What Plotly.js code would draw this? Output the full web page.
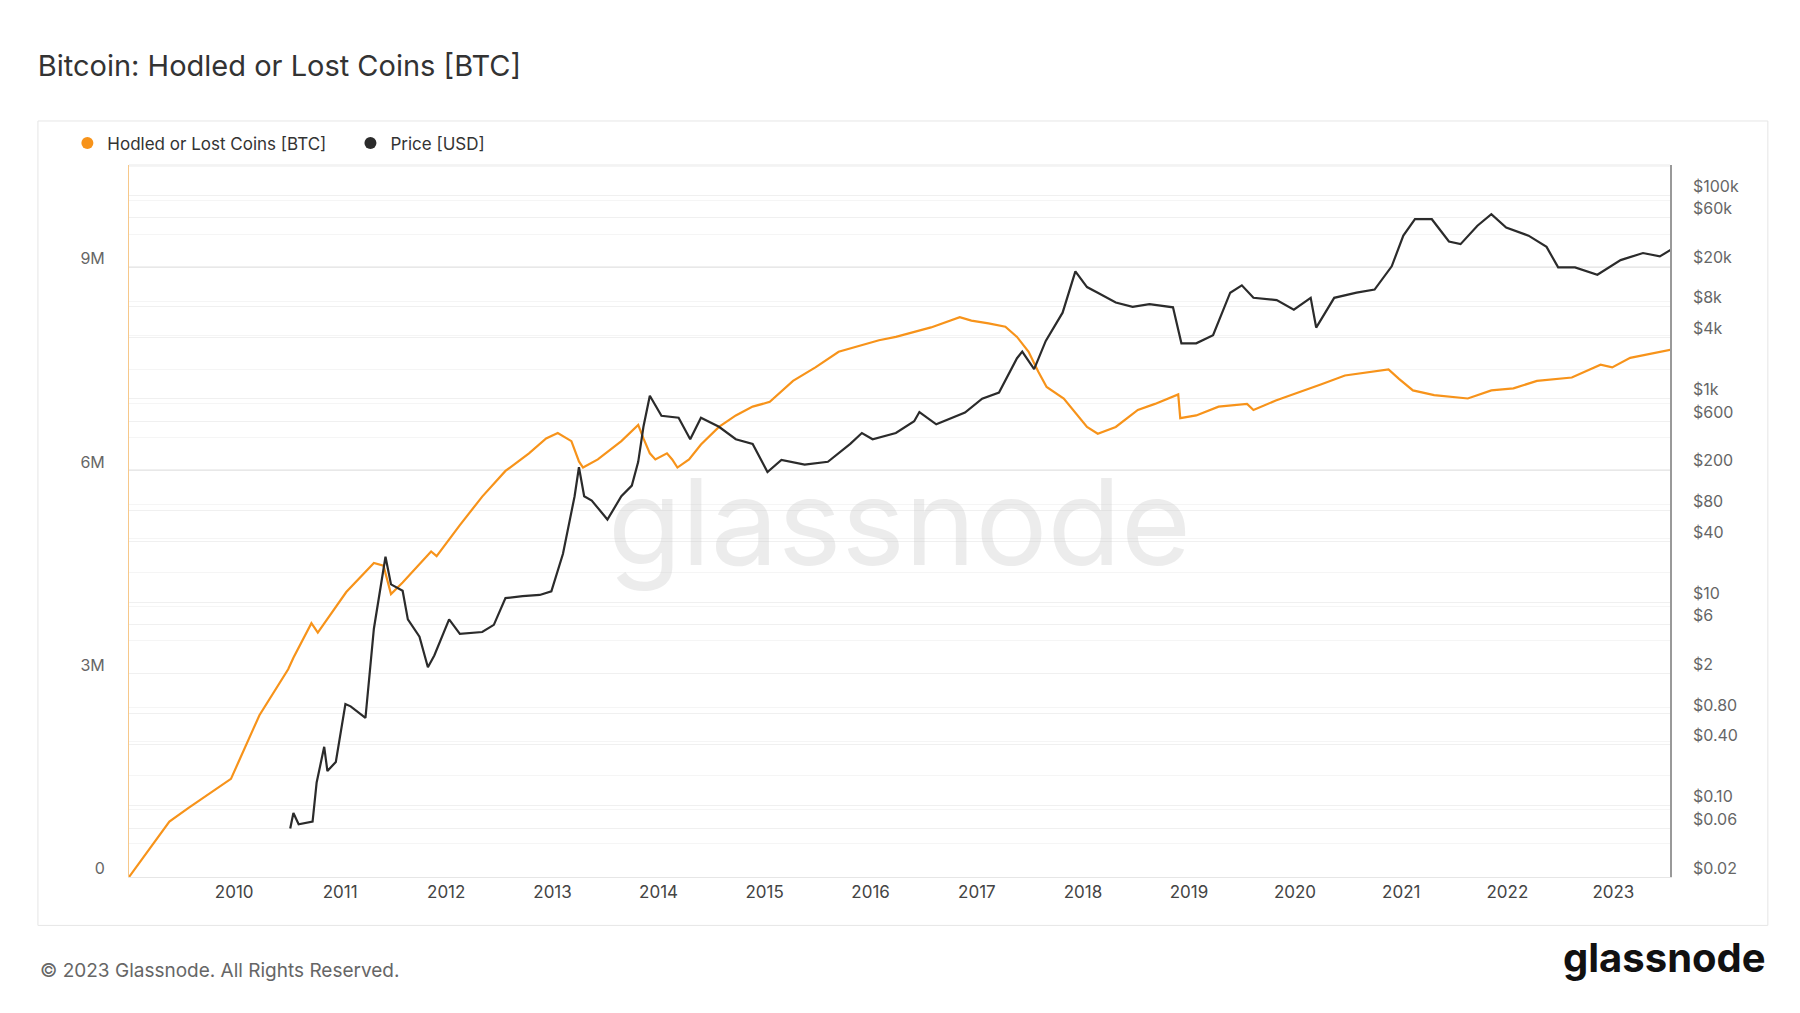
<!DOCTYPE html>
<html>
<head>
<meta charset="utf-8">
<script src="https://cdn.plot.ly/plotly-3.0.1.min.js"></script>
<style>
  body { margin: 0; background: #fff; }
  #chart { width: 1800px; height: 1013px; }
</style>
</head>
<body>
<div id="chart"></div>
<script>
// pixel readings converted to year fractions / values
var hodlYears = [2009.01, 2009.39, 2009.57, 2009.97, 2010.24, 2010.51, 2010.56, 2010.73, 2010.79, 2011.06,
  2011.32, 2011.41, 2011.48, 2011.59, 2011.86, 2011.91, 2012.13, 2012.34, 2012.56, 2012.78, 2012.94,
  2013.05, 2013.18, 2013.25, 2013.29, 2013.43, 2013.65, 2013.81, 2013.86, 2013.92, 2013.97, 2014.08,
  2014.13, 2014.18, 2014.29, 2014.4, 2014.57, 2014.73, 2014.89, 2015.05, 2015.27, 2015.48, 2015.7,
  2015.87, 2016.08, 2016.24, 2016.41, 2016.57, 2016.84, 2016.95, 2017.11, 2017.27, 2017.38, 2017.49,
  2017.58, 2017.66, 2017.82, 2017.91, 2018.04, 2018.14, 2018.31, 2018.52, 2018.68, 2018.9, 2018.92,
  2019.07, 2019.28, 2019.55, 2019.61, 2019.82, 2020.04, 2020.25, 2020.47, 2020.88, 2020.98, 2021.11,
  2021.31, 2021.63, 2021.85, 2022.06, 2022.28, 2022.61, 2022.88, 2022.99, 2023.16, 2023.54];
var hodlCoins = [0, 0.82, 1.02, 1.45, 2.39, 3.07, 3.24, 3.75, 3.61, 4.21,
  4.64, 4.6, 4.18, 4.35, 4.81, 4.74, 5.2, 5.62, 6.0, 6.26, 6.48,
  6.56, 6.44, 6.14, 6.05, 6.17, 6.44, 6.68, 6.48, 6.26, 6.17, 6.26,
  6.17, 6.05, 6.17, 6.39, 6.65, 6.82, 6.95, 7.02, 7.33, 7.53, 7.76,
  7.84, 7.93, 7.98, 8.05, 8.12, 8.27, 8.22, 8.18, 8.13, 7.98, 7.76,
  7.47, 7.24, 7.07, 6.9, 6.65, 6.55, 6.65, 6.9, 6.99, 7.13, 6.78,
  6.82, 6.95, 6.99, 6.9, 7.04, 7.16, 7.28, 7.41, 7.5, 7.36, 7.19,
  7.12, 7.07, 7.19, 7.22, 7.33, 7.38, 7.57, 7.53, 7.67, 7.79];

var priceYears = [2010.53, 2010.56, 2010.61, 2010.74, 2010.78, 2010.85, 2010.88, 2010.96, 2011.05, 2011.1,
  2011.24, 2011.32, 2011.43, 2011.48, 2011.59, 2011.64, 2011.75, 2011.83, 2011.89, 2012.03, 2012.13,
  2012.34, 2012.45, 2012.56, 2012.72, 2012.88, 2012.99, 2013.1, 2013.21, 2013.25, 2013.3, 2013.37,
  2013.52, 2013.65, 2013.75, 2013.81, 2013.86, 2013.92, 2014.03, 2014.19, 2014.3, 2014.4, 2014.57,
  2014.73, 2014.89, 2015.03, 2015.16, 2015.38, 2015.6, 2015.81, 2015.92, 2016.02, 2016.24, 2016.41,
  2016.46, 2016.62, 2016.89, 2017.05, 2017.21, 2017.38, 2017.43, 2017.54, 2017.65, 2017.81, 2017.93,
  2018.04, 2018.14, 2018.31, 2018.47, 2018.63, 2018.85, 2018.93, 2019.07, 2019.23, 2019.39, 2019.5,
  2019.61, 2019.83, 2019.99, 2020.15, 2020.2, 2020.37, 2020.58, 2020.75, 2020.91, 2021.02, 2021.13,
  2021.29, 2021.45, 2021.56, 2021.72, 2021.85, 2021.99, 2022.2, 2022.37, 2022.48, 2022.64, 2022.85,
  2023.07, 2023.28, 2023.44, 2023.54];
var priceUsd = [0.06, 0.085, 0.066, 0.07, 0.17, 0.38, 0.22, 0.27, 1.0, 0.95,
  0.73, 5.5, 28, 15, 13, 6.8, 4.6, 2.3, 3.0, 6.8, 4.9,
  5.1, 6.0, 11, 11.5, 11.8, 12.8, 30, 110, 212, 110, 100,
  65, 110, 140, 240, 530, 1070, 680, 650, 400, 650, 530,
  400, 360, 190, 250, 225, 240, 360, 460, 400, 460, 600,
  740, 560, 730, 1000, 1150, 2500, 2900, 1950, 3700, 7000, 17800,
  12500, 11000, 8800, 8000, 8500, 7900, 3500, 3500, 4200, 11000, 13000,
  9800, 9300, 7500, 9800, 5000, 9800, 11000, 11800, 20000, 40000, 58000,
  58000, 35000, 33000, 50000, 65000, 48000, 40000, 31000, 19500, 19500, 16500,
  23000, 27000, 25000, 29000];

var priceTicks = [0.02, 0.06, 0.1, 0.4, 0.8, 2, 6, 10, 40, 80, 200, 600, 1000, 4000, 8000, 20000, 60000, 100000];
var priceTickText = ['$0.02', '$0.06', '$0.10', '$0.40', '$0.80', '$2', '$6', '$10', '$40', '$80', '$200', '$600', '$1k', '$4k', '$8k', '$20k', '$60k', '$100k'];

function toDate(y) {
  var yr = Math.floor(y);
  var start = Date.UTC(yr, 0, 1), end = Date.UTC(yr + 1, 0, 1);
  return new Date(start + (y - yr) * (end - start)).toISOString().slice(0, 10);
}

var font = 'Inter, "Noto Sans", sans-serif';
var orange = '#f7931a', dark = '#2b2b2b';

var data = [
  {
    x: hodlYears.map(toDate), y: hodlCoins.map(function (v) { return v * 1e6; }),
    name: 'Hodled or Lost Coins [BTC]', type: 'scatter', mode: 'lines', showlegend: false,
    line: {color: orange, width: 2.2}, yaxis: 'y'
  },
  {
    x: priceYears.map(toDate), y: priceUsd,
    name: 'Price [USD]', type: 'scatter', mode: 'lines', showlegend: false,
    line: {color: dark, width: 2.2}, yaxis: 'y2'
  },
  // legend entries with round markers
  {x: [null], y: [null], name: 'Hodled or Lost Coins [BTC]    ', type: 'scatter', mode: 'markers',
    marker: {color: orange, size: 12}},
  {x: [null], y: [null], name: 'Price [USD]', type: 'scatter', mode: 'markers',
    marker: {color: dark, size: 12}}
];

var layout = {
  width: 1800, height: 1013,
  paper_bgcolor: '#fff', plot_bgcolor: 'rgba(0,0,0,0)',
  margin: {l: 129, r: 130, t: 165, b: 136},
  font: {family: font, color: '#555'},
  title: {text: 'Bitcoin: Hodled or Lost Coins [BTC]', x: 0.021, xanchor: 'left', y: 0.945,
    font: {family: font, size: 29, color: '#333'}},
  showlegend: true,
  legend: {orientation: 'h', x: -0.04, xref: 'paper', y: 1.005, yanchor: 'bottom', xanchor: 'left',
    font: {size: 17, color: '#333'}, itemwidth: 30},
  xaxis: {
    type: 'date', range: ['2009-01-04', '2023-07-15'],
    tickvals: ['2010', '2011', '2012', '2013', '2014', '2015', '2016', '2017', '2018', '2019', '2020', '2021', '2022', '2023'].map(function (y) { return y + '-01-01'; }),
    tickformat: '%Y', showgrid: false, zeroline: false,
    showline: true, linecolor: '#e6e6e6', ticks: '',
    tickfont: {size: 17, color: '#444'}
  },
  yaxis: {
    range: [0, 10.52e6], tickvals: [0, 3e6, 6e6, 9e6], ticktext: ['0', '3M', '6M', '9M'],
    showgrid: true, gridcolor: '#e8e8e8', zeroline: false,
    minor: {dtick: 500000, showgrid: true, gridcolor: '#f5f5f5'},
    showline: true, linecolor: '#f7c88a', linewidth: 1,
    tickfont: {size: 16, color: '#666'}, ticklabelstandoff: 20, ticklabelshift: -9
  },
  yaxis2: {
    type: 'log', overlaying: 'y', side: 'right',
    range: [Math.log10(0.02), 5.296],
    tickvals: priceTicks, ticktext: priceTickText,
    showgrid: true, gridcolor: '#f0f0f0', zeroline: false,
    showline: true, linecolor: '#999', linewidth: 1.5,
    tickfont: {size: 16, color: '#666'}, ticklabelstandoff: 18, ticklabelshift: -9
  },
  shapes: [
    {type: 'rect', xref: 'paper', yref: 'paper', x0: -0.0591, x1: 1.0635, y0: -0.068, y1: 1.0618,
      line: {color: '#e6e6e6', width: 1}, layer: 'below'},
    {type: 'line', xref: 'paper', yref: 'paper', x0: 0, x1: 1, y0: 1, y1: 1,
      line: {color: '#e8e8e8', width: 1}}
  ],
  annotations: [
    {text: 'glassnode', xref: 'paper', yref: 'paper', x: 0.5, y: 0.5, showarrow: false,
      font: {family: font, size: 120, color: 'rgba(200,200,200,0.35)'}},
    {text: '© 2023 Glassnode. All Rights Reserved.', xref: 'paper', yref: 'paper',
      x: -0.0591, y: -0.15, xanchor: 'left', showarrow: false, font: {size: 19, color: '#666'}},
    {text: '<b>glassnode</b>', xref: 'paper', yref: 'paper', x: 1.0635, y: -0.15,
      xanchor: 'right', showarrow: false, font: {size: 40, color: '#111'}}
  ]
};

Plotly.newPlot('chart', data, layout, {displayModeBar: false});
</script>
</body>
</html>
